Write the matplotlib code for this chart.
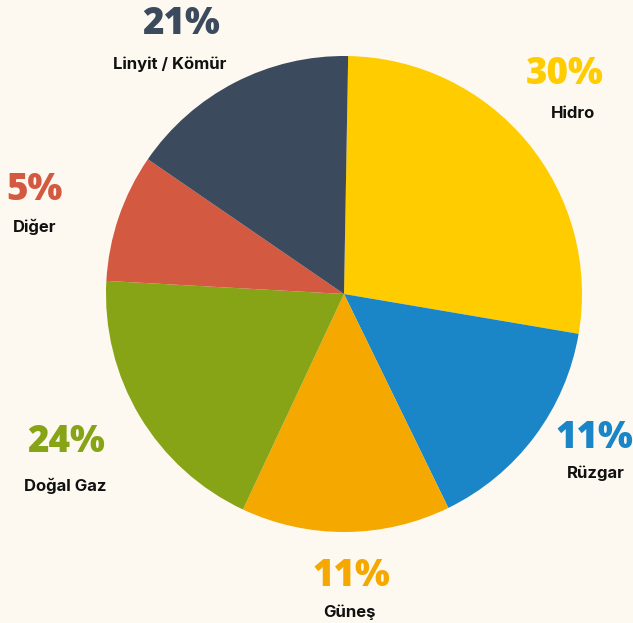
import matplotlib
matplotlib.use("Agg")
import matplotlib.pyplot as plt

# Data
categories = ["Hidro", "Rüzgar", "Güneş", "Doğal Gaz", "Diğer", "Linyit / Kömür"]
slice_values = [27.4, 15.1, 14.2, 18.9, 8.7, 15.7]   # slice sizes as drawn
label_percents = ["30%", "11%", "11%", "24%", "5%", "21%"]
colors = ["#FFCC00", "#1A86C8", "#F5A800", "#87A316", "#D35940", "#3C4A5E"]

W, H = 633, 623
BG = "#FDF9F0"
fig = plt.figure(figsize=(W / 100, H / 100), dpi=100, facecolor=BG)
ax = fig.add_axes([0, 0, 1, 1])
ax.set_facecolor(BG)

cx, cy, r = 344, H - 294, 238
ax.pie(slice_values, colors=colors, startangle=89, counterclock=False,
       center=(cx, cy), radius=r, frame=True,
       wedgeprops=dict(linewidth=0))
ax.set_xlim(0, W)
ax.set_ylim(0, H)
ax.set_aspect("equal")
ax.axis("off")

# label positions (pixel coords from top-left): pct center, name center
pos = [
    ((565, 75), (573, 113)),
    ((594, 439), (596, 473)),
    ((351, 577), (350, 612)),
    ((66, 443), (65, 486)),
    ((35, 190), (35, 227)),
    ((181, 25), (170, 64)),
]
for name, pct, col, (pp, npos) in zip(categories, label_percents, colors, pos):
    ax.text(pp[0], H - pp[1], pct, color=col, fontsize=26.5, fontfamily="Open Sans",
            fontweight=800, ha="center", va="center")
    ax.text(npos[0], H - npos[1], name, color="#111111", fontsize=12,
            fontfamily="Inter", fontweight="bold", ha="center", va="center")

fig.savefig("out.png", dpi=100, facecolor=BG)
